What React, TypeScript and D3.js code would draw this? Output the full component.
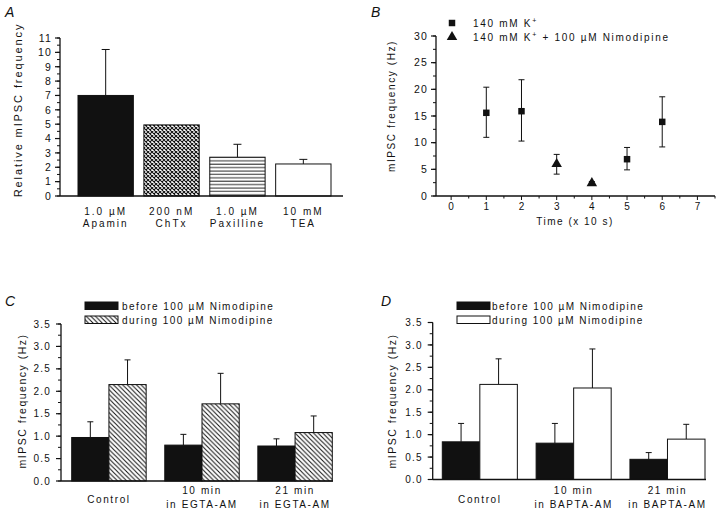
import React from 'react';
import * as d3 from 'd3';

const FONT = "'Liberation Sans', Arial, Helvetica, sans-serif";

// ---------- Panel A ----------
const aLabelTop = ['1.0 µM', '200 nM', '1.0 µM', '10 mM'];
const aLabelBottom = ['Apamin', 'ChTx', 'Paxilline', 'TEA'];
const aValues = [7.0, 4.95, 2.7, 2.23];
const aErrTop = [10.2, 4.95, 3.6, 2.55];
const aTicks = [0, 1, 2, 3, 4, 5, 6, 7, 8, 9, 10, 11];

// ---------- Panel B ----------
const bKTime = [1, 2, 5, 6];
const bKMean = [15.6, 15.9, 6.9, 13.9];
const bKLow = [11.0, 10.3, 4.9, 9.2];
const bKHigh = [20.4, 21.8, 9.1, 18.6];
const bNTime = [3, 4];
const bNMean = [6.0, 2.4];
const bNLow = [4.1, 2.0];
const bNHigh = [7.8, 2.7];
const bYTicks = [0, 5, 10, 15, 20, 25, 30];
const bXTicks = [0, 1, 2, 3, 4, 5, 6, 7];

// ---------- Panel C ----------
const cGroupTop = ['Control', '10 min', '21 min'];
const cGroupBottom = ['', 'in EGTA-AM', 'in EGTA-AM'];
const cBefore = [0.97, 0.8, 0.78];
const cBeforeErr = [1.32, 1.04, 0.94];
const cDuring = [2.15, 1.72, 1.08];
const cDuringErr = [2.7, 2.4, 1.45];

// ---------- Panel D ----------
const dGroupTop = ['Control', '10 min', '21 min'];
const dGroupBottom = ['', 'in BAPTA-AM', 'in BAPTA-AM'];
const dBefore = [0.84, 0.81, 0.45];
const dBeforeErr = [1.25, 1.25, 0.6];
const dDuring = [2.12, 2.04, 0.9];
const dDuringErr = [2.69, 2.91, 1.23];

const cdTicks = [0, 0.5, 1, 1.5, 2, 2.5, 3, 3.5];
const seriesNames = ['before 100 µM Nimodipine', 'during 100 µM Nimodipine'];

const txt = (size: number, ls: number) => ({
  fontFamily: FONT,
  fontSize: size,
  letterSpacing: ls,
  fill: '#111',
});

function YAxis({ scale, x, ticks, minorStep, fmt, labelGap = 8, size = 10, ls = 1 }: any) {
  const [d0, d1] = scale.domain();
  const minors: number[] = [];
  for (let v = d0; v <= d1 + 1e-9; v += minorStep) minors.push(v);
  return (
    <g>
      <line x1={x} x2={x} y1={scale(d0)} y2={scale(d1)} stroke="#111" strokeWidth={1.3} />
      {minors.map((v, i) => (
        <line key={'m' + i} x1={x - 3} x2={x} y1={scale(v)} y2={scale(v)} stroke="#111" strokeWidth={1} />
      ))}
      {ticks.map((v: number, i: number) => (
        <g key={i}>
          <line x1={x - 5} x2={x} y1={scale(v)} y2={scale(v)} stroke="#111" strokeWidth={1.2} />
          <text x={x - labelGap} y={scale(v)} dy="0.36em" textAnchor="end" style={txt(size, ls)}>
            {fmt(v)}
          </text>
        </g>
      ))}
    </g>
  );
}

function ErrUp({ cx, y0, y1, w = 6 }: any) {
  return (
    <g stroke="#111" strokeWidth={1}>
      <line x1={cx} x2={cx} y1={y0} y2={y1} />
      <line x1={cx - w / 2} x2={cx + w / 2} y1={y1} y2={y1} />
    </g>
  );
}

function PanelA() {
  const x = d3.scaleBand<number>().domain(d3.range(aValues.length)).range([78, 331]).paddingInner(0.16).paddingOuter(0);
  const y = d3.scaleLinear().domain([0, 11]).range([196, 38]);
  const fills = ['#111', 'url(#patCross)', 'url(#patHLines)', '#fff'];
  return (
    <g>
      <text x={5} y={17} style={{ ...txt(14, 0), fontStyle: 'italic' }}>A</text>
      <text transform="translate(21.5,110) rotate(-90)" textAnchor="middle" style={txt(11, 1.9)}>
        Relative mIPSC frequency
      </text>
      {aValues.map((v, i) => {
        const bx = x(i)!;
        const bw = x.bandwidth();
        return (
          <g key={i}>
            {aErrTop[i] > v && <ErrUp cx={bx + bw / 2} y0={y(v)} y1={y(aErrTop[i])} w={8} />}
            <rect x={bx} y={y(v)} width={bw} height={y(0) - y(v)} fill={fills[i]} stroke="#111" strokeWidth={1} />
            <text x={bx + bw / 2} y={215} textAnchor="middle" style={txt(10, 2)}>{aLabelTop[i]}</text>
            <text x={bx + bw / 2} y={227} textAnchor="middle" style={txt(10, 2)}>{aLabelBottom[i]}</text>
          </g>
        );
      })}
      <line x1={60} x2={343} y1={y(0)} y2={y(0)} stroke="#111" strokeWidth={1.3} />
      <YAxis scale={y} x={60} ticks={aTicks} minorStep={0.5} fmt={(v: number) => String(v)} size={10.5} ls={1.2} />
    </g>
  );
}

function PanelB() {
  const x = d3.scaleLinear().domain([-0.43, 7.5]).range([436, 715]);
  const y = d3.scaleLinear().domain([0, 30]).range([196, 36]);
  const xMinor = d3.range(-0, 7.51, 0.5);
  const tri = d3.symbol().type(d3.symbolTriangle).size(48)();
  const sq = d3.symbol().type(d3.symbolSquare).size(42)();
  return (
    <g>
      <text x={371} y={17} style={{ ...txt(14, 0), fontStyle: 'italic' }}>B</text>
      <text transform="translate(395,106) rotate(-90)" textAnchor="middle" style={txt(10, 1.6)}>
        mIPSC frequency (Hz)
      </text>
      <YAxis scale={y} x={436} ticks={bYTicks} minorStep={2.5} fmt={(v: number) => String(v)} size={10.5} ls={1.2} />
      <line x1={436} x2={715} y1={y(0)} y2={y(0)} stroke="#111" strokeWidth={1.3} />
      {xMinor.map((v, i) => (
        <line key={i} x1={x(v)} x2={x(v)} y1={y(0)} y2={y(0) + (Number.isInteger(v) ? 4 : 2.5)} stroke="#111" strokeWidth={1} />
      ))}
      {bXTicks.map((v) => (
        <text key={v} x={x(v)} y={209.5} textAnchor="middle" style={txt(10, 0)}>{v}</text>
      ))}
      <text x={575} y={225} textAnchor="middle" style={txt(10, 1.5)}>Time (x 10 s)</text>
      {bKTime.map((t, i) => (
        <g key={'k' + i}>
          <g stroke="#111" strokeWidth={1}>
            <line x1={x(t)} x2={x(t)} y1={y(bKLow[i])} y2={y(bKHigh[i])} />
            <line x1={x(t) - 3} x2={x(t) + 3} y1={y(bKLow[i])} y2={y(bKLow[i])} />
            <line x1={x(t) - 3} x2={x(t) + 3} y1={y(bKHigh[i])} y2={y(bKHigh[i])} />
          </g>
          <path d={sq!} transform={`translate(${x(t)},${y(bKMean[i])})`} fill="#111" />
        </g>
      ))}
      {bNTime.map((t, i) => (
        <g key={'n' + i}>
          <g stroke="#111" strokeWidth={1}>
            <line x1={x(t)} x2={x(t)} y1={y(bNLow[i])} y2={y(bNHigh[i])} />
            <line x1={x(t) - 3} x2={x(t) + 3} y1={y(bNLow[i])} y2={y(bNLow[i])} />
            <line x1={x(t) - 3} x2={x(t) + 3} y1={y(bNHigh[i])} y2={y(bNHigh[i])} />
          </g>
          <path d={tri!} transform={`translate(${x(t)},${y(bNMean[i])})`} fill="#111" />
        </g>
      ))}
      {/* legend */}
      <path d={sq!} transform="translate(452,23)" fill="#111" />
      <path d={tri!} transform="translate(452,37)" fill="#111" />
      <text x={473} y={26.5} style={txt(10, 1.7)}>
        140 mM K<tspan dy={-4} fontSize={7}>+</tspan>
      </text>
      <text x={473} y={40.5} style={txt(10, 1.7)}>
        140 mM K<tspan dy={-4} fontSize={7}>+</tspan><tspan dy={4}> + 100 µM Nimodipine</tspan>
      </text>
    </g>
  );
}

function GroupedPanel({ letter, letterX, axisX, y0px, range, xEnd, top, bottom, before, beforeErr, during, duringErr, duringFill, labelX, legendX, legendTextX }: any) {
  const g = d3.scaleBand<number>().domain(d3.range(before.length)).range(range).paddingInner(0.2).paddingOuter(0);
  const s = d3.scaleBand<number>().domain([0, 1]).range([0, g.bandwidth()]).padding(0);
  const y = d3.scaleLinear().domain([0, 3.5]).range([y0px, y0px - 157]);
  const fills = ['#111', duringFill];
  return (
    <g>
      <text x={letterX} y={306} style={{ ...txt(14, 0), fontStyle: 'italic' }}>{letter}</text>
      <text transform={`translate(${labelX},401) rotate(-90)`} textAnchor="middle" style={txt(10.5, 1.5)}>
        mIPSC frequency (Hz)
      </text>
      {seriesNames.map((n, k) => (
        <g key={n}>
          <rect x={legendX} y={302 + k * 14} width={33} height={7.5} fill={fills[k]} stroke="#111" strokeWidth={1} />
          <text x={legendTextX} y={309.5 + k * 14} style={txt(10, 1.45)}>{n}</text>
        </g>
      ))}
      {before.map((v: number, i: number) => {
        const gx = g(i)!;
        const bw = s.bandwidth();
        const vals = [v, during[i]];
        const errs = [beforeErr[i], duringErr[i]];
        return (
          <g key={i}>
            {vals.map((val, k) => (
              <g key={k}>
                <ErrUp cx={gx + s(k)! + bw / 2} y0={y(val)} y1={y(errs[k])} w={6} />
                <rect x={gx + s(k)!} y={y(val)} width={bw} height={y(0) - y(val)} fill={fills[k]} stroke="#111" strokeWidth={1} />
              </g>
            ))}
            {bottom[i] ? (
              <>
                <text x={gx + g.bandwidth() / 2} y={493.5} textAnchor="middle" style={txt(10, 1.6)}>{top[i]}</text>
                <text x={gx + g.bandwidth() / 2} y={508} textAnchor="middle" style={txt(10, 1.6)}>{bottom[i]}</text>
              </>
            ) : (
              <text x={gx + g.bandwidth() / 2} y={503} textAnchor="middle" style={txt(10, 1.6)}>{top[i]}</text>
            )}
          </g>
        );
      })}
      <line x1={axisX} x2={xEnd} y1={y(0)} y2={y(0)} stroke="#111" strokeWidth={1.3} />
      <YAxis scale={y} x={axisX} ticks={cdTicks} minorStep={0.25} fmt={d3.format('.1f')} size={10} ls={1.2} labelGap={10} />
    </g>
  );
}

export default function App() {
  return (
    <svg width={720} height={514} style={{ position: 'absolute', left: 0, top: 0, background: '#fff' }}>
      <defs>
        <pattern id="patCross" width={4} height={4} patternUnits="userSpaceOnUse">
          <rect width={4} height={4} fill="#fff" />
          <path d="M0,0 L4,4 M4,0 L0,4" stroke="#111" strokeWidth={1.1} />
        </pattern>
        <pattern id="patHLines" width={6} height={3.4} patternUnits="userSpaceOnUse">
          <rect width={6} height={3.4} fill="#fff" />
          <line x1={0} x2={6} y1={1} y2={1} stroke="#111" strokeWidth={0.9} />
        </pattern>
        <pattern id="patDiag" width={4.6} height={4.6} patternUnits="userSpaceOnUse">
          <rect width={4.6} height={4.6} fill="#fff" />
          <path d="M-1,-1 L5.6,5.6 M-1,3.6 L1,5.6 M3.6,-1 L5.6,1" stroke="#111" strokeWidth={1} />
        </pattern>
      </defs>
      <rect width={720} height={514} fill="#fff" />
      <PanelA />
      <PanelB />
      <GroupedPanel
        letter="C" letterX={5} axisX={61} y0px={481} range={[71.7, 332.3]} xEnd={333}
        top={cGroupTop} bottom={cGroupBottom} before={cBefore} beforeErr={cBeforeErr}
        during={cDuring} duringErr={cDuringErr} duringFill="url(#patDiag)"
        labelX={25.5} legendX={85} legendTextX={122}
      />
      <GroupedPanel
        letter="D" letterX={381} axisX={432.7} y0px={479.5} range={[442.3, 705]} xEnd={706}
        top={dGroupTop} bottom={dGroupBottom} before={dBefore} beforeErr={dBeforeErr}
        during={dDuring} duringErr={dDuringErr} duringFill="#fff"
        labelX={396} legendX={457} legendTextX={492}
      />
    </svg>
  );
}
